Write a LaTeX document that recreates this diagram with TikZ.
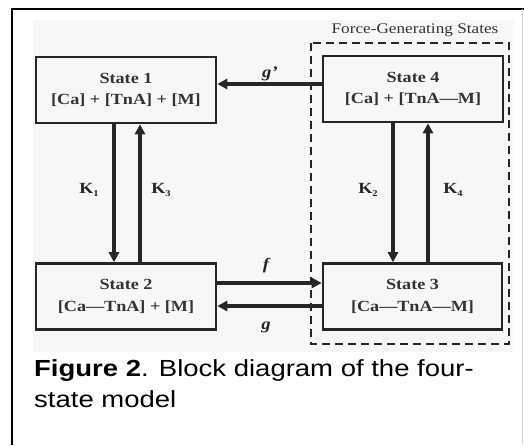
\documentclass[tikz,border=0pt]{standalone}
\usepackage{fontspec}
\setmainfont{Liberation Serif}[FakeStretch=1.17]
\newfontfamily\capfont{Liberation Sans}[FakeStretch=1.18]
\usetikzlibrary{arrows.meta}
\newcommand{\subk}[1]{\raisebox{-0.35ex}{\fontsize{9}{10}\selectfont #1}}
\begin{document}
\begin{tikzpicture}[x=1pt,y=-1pt,
  statebox/.style={draw=black!85,line width=2.6pt,minimum width=180pt,minimum height=66pt,
    align=center,font=\bfseries\fontsize{15.5}{21.5}\selectfont,text=black!80,inner sep=0pt},
  conn/.style={line width=3.2pt,draw=black!85,-{Triangle[length=10pt,width=10pt]}},
  lbl/.style={font=\bfseries\fontsize{15.5}{16}\selectfont,text=black!85},
  glbl/.style={font=\bfseries\itshape\fontsize{16}{17}\selectfont,text=black!85}]
\useasboundingbox (0,0) rectangle (524,445);
\fill[black!3] (33,20) rectangle (514,352);
\draw[line width=2.5pt] (12,445) -- (12,9) -- (524,9);
\draw[black!15,line width=1pt] (522,9) -- (522,445);
\draw[black!85,line width=2.6pt,dash pattern=on 8pt off 5pt] (311,43) rectangle (509,344);
\node[font=\fontsize{14.7}{16}\selectfont,text=black!80] (fg) at (415,30) {Force-Generating States};
\node[statebox] (s1) at (126,90) {State 1\\{}[Ca] + [TnA] + [M]};
\node[statebox] (s4) at (413,89) {State 4\\{}[Ca] + [TnA---M]};
\node[statebox] (s2) at (126,296.5) {State 2\\{}[Ca---TnA] + [M]};
\node[statebox,minimum width=179pt] (s3) at (412.5,296.5) {State 3\\{}[Ca---TnA---M]};
\draw[conn] (s4.west |- 0,84) -- (s1.east |- 0,84);
\draw[conn] (s2.east |- 0,283) -- (s3.west |- 0,283);
\draw[conn] (s3.west |- 0,306) -- (s2.east |- 0,306);
\draw[conn] (s1.south -| 114,0) -- (s2.north -| 114,0);
\draw[conn] (s2.north -| 140,0) -- (s1.south -| 140,0);
\draw[conn] (s4.south -| 393,0) -- (s3.north -| 393,0);
\draw[conn] (s3.north -| 428,0) -- (s4.south -| 428,0);
\node[glbl] (gp) at (270,74) {g'};
\node[glbl] (f) at (266,266) {f};
\node[glbl] (g) at (266,327) {g};
\node[lbl] (k1) at (89,190) {K\subk{1}};
\node[lbl] (k3) at (161,190) {K\subk{3}};
\node[lbl] (k2) at (368,190) {K\subk{2}};
\node[lbl] (k4) at (453,190) {K\subk{4}};
\node[anchor=base west,font=\capfont\fontsize{23.3}{31}\selectfont,align=left,inner sep=0pt] (cap) at (34,407)
  {\textbf{Figure 2}. Block diagram of the four-\\state model};
\end{tikzpicture}
\end{document}
